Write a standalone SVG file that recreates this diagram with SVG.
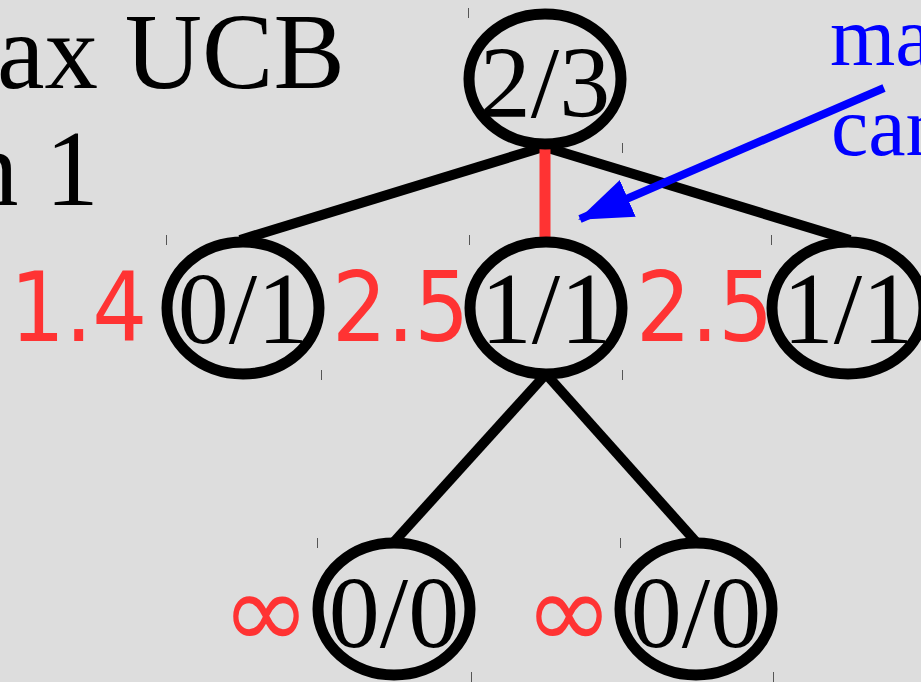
<svg xmlns="http://www.w3.org/2000/svg" width="921" height="682" viewBox="0 0 921 682">
<defs>
<style>
.node ellipse{fill:none;stroke:#000;stroke-width:11}
.node text{font-family:"Liberation Serif",serif;font-size:102px;fill:#000;text-anchor:middle}
.tick{stroke:#555;stroke-width:1}
.edge{stroke:#000;stroke-width:10;fill:none}
.sel{stroke:#ff3333;stroke-width:11;fill:none}
.val{font-family:"DejaVu Sans",sans-serif;font-stretch:condensed;font-size:96px;fill:#ff3333}
.inf{font-family:"DejaVu Sans",sans-serif;font-size:106px;fill:#ff3333}
.title{font-family:"Liberation Serif",serif;font-size:107px;fill:#000}
.note{font-family:"Liberation Serif",serif;font-size:84px;fill:#0000ff}
</style>
<marker id="ah" markerUnits="userSpaceOnUse" markerWidth="64" markerHeight="44" refX="52" refY="20" orient="auto" viewBox="0 0 64 44">
<path d="M0,0 L54,20 L0,40 Z" fill="#0000ff"/>
</marker>
</defs>
<rect width="921" height="682" fill="#dddddd"/>
<text class="title" x="-3" y="88">ax UCB</text>
<text class="title" x="-35" y="205">n 1</text>
<g id="ticks">
<line class="tick" x1="468.5" y1="8" x2="468.5" y2="18"/>
<line class="tick" x1="622.5" y1="143" x2="622.5" y2="153"/>
<line class="tick" x1="166.5" y1="235" x2="166.5" y2="245"/>
<line class="tick" x1="321.5" y1="370" x2="321.5" y2="380"/>
<line class="tick" x1="469.5" y1="235" x2="469.5" y2="245"/>
<line class="tick" x1="622.5" y1="370" x2="622.5" y2="380"/>
<line class="tick" x1="771.5" y1="235" x2="771.5" y2="245"/>
<line class="tick" x1="317.5" y1="538" x2="317.5" y2="548"/>
<line class="tick" x1="471.5" y1="672" x2="471.5" y2="682"/>
<line class="tick" x1="620.5" y1="538" x2="620.5" y2="548"/>
<line class="tick" x1="773.5" y1="672" x2="773.5" y2="682"/>
</g>
<g id="connectors">
<line class="edge" x1="540" y1="148" x2="240" y2="240"/>
<line class="edge" x1="548" y1="148" x2="850" y2="240"/>
<line class="sel" x1="545" y1="148" x2="545" y2="240"/>
<line class="edge" x1="546" y1="374" x2="393" y2="543"/>
<line class="edge" x1="546" y1="374" x2="697" y2="543"/>
<line x1="884" y1="88" x2="580" y2="219" stroke="#0000ff" stroke-width="8" marker-end="url(#ah)"/>
</g>
<g id="n_root" class="node"><ellipse cx="545" cy="79" rx="76" ry="65"/><text x="545" y="117">2/3</text></g>
<g id="n_left" class="node"><ellipse cx="243" cy="308" rx="76" ry="66"/><text x="243" y="343">0/1</text></g>
<g id="n_mid" class="node"><ellipse cx="546" cy="308" rx="76" ry="66"/><text x="546" y="343">1/1</text></g>
<g id="n_right" class="node"><ellipse cx="848" cy="308" rx="76" ry="66"/><text x="848" y="343">1/1</text></g>
<g id="n_bl" class="node"><ellipse cx="394" cy="609" rx="76" ry="66"/><text x="394" y="647">0/0</text></g>
<g id="n_br" class="node"><ellipse cx="696" cy="609" rx="76" ry="66"/><text x="696" y="647">0/0</text></g>
<g id="values">
<text class="val" x="10" y="341">1.4</text>
<text class="val" x="332" y="341">2.5</text>
<text class="val" x="636" y="341">2.5</text>
<text class="inf" x="222" y="648">∞</text>
<text class="inf" x="525" y="648">∞</text>
</g>
<text class="note" x="830" y="65">ma</text>
<text class="note" x="831" y="155">can</text>
</svg>
